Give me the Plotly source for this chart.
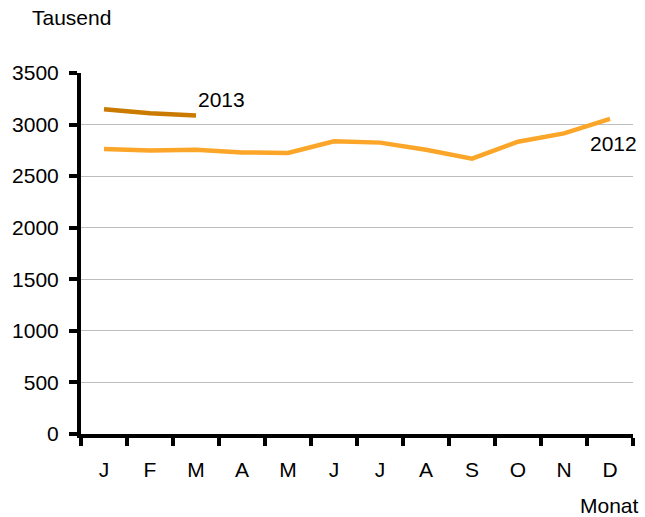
import plotly.graph_objects as go

months = ["J", "F", "M", "A", "M", "J", "J", "A", "S", "O", "N", "D"]
values_2012 = [2764, 2748, 2757, 2730, 2724, 2838, 2825, 2755, 2670, 2834, 2915, 3055]
values_2013 = [3149, 3110, 3088]
y_ticks = [0, 500, 1000, 1500, 2000, 2500, 3000, 3500]

FONT = "Liberation Sans, Arial, sans-serif"
x_idx = list(range(len(months)))

fig = go.Figure()
fig.add_trace(go.Scatter(x=x_idx, y=values_2012, mode="lines",
                         line=dict(color="#FCA629", width=4.5), name="2012"))
fig.add_trace(go.Scatter(x=x_idx[:len(values_2013)], y=values_2013, mode="lines",
                         line=dict(color="#CB7A00", width=4.5), name="2013"))

fig.update_layout(
    width=645, height=517,
    margin=dict(l=78, r=12, t=73, b=83),
    paper_bgcolor="white", plot_bgcolor="white",
    showlegend=False,
    font=dict(family=FONT, size=21, color="black"),
    xaxis=dict(
        range=[-0.5, 11.5], tickvals=x_idx, ticktext=months,
        ticks="outside", ticklen=0, showgrid=False, zeroline=False,
        showline=True, linecolor="black", linewidth=4,
        ticklabelstandoff=14,
        minor=dict(tickvals=[i - 0.5 for i in range(13)], ticks="outside",
                   ticklen=8, tickwidth=4, tickcolor="black", showgrid=False),
        tickfont=dict(size=21),
    ),
    yaxis=dict(
        range=[0, 3500], tickvals=y_ticks, ticks="outside", ticklen=8,
        tickwidth=4, tickcolor="black", showgrid=True, gridcolor="#BDBDBD",
        gridwidth=1, zeroline=False, showline=True, linecolor="black",
        linewidth=4, tickfont=dict(size=21), ticklabelstandoff=6,
    ),
    annotations=[
        dict(text="Tausend", xref="paper", yref="paper", x=-0.092, y=1.155,
             xanchor="left", yanchor="middle", showarrow=False, font=dict(size=21)),
        dict(text="Monat", xref="paper", yref="paper", x=1.0144, y=-0.197,
             xanchor="right", yanchor="middle", showarrow=False, font=dict(size=21)),
        dict(text="2013", xref="x", yref="y", x=2.0, y=3239,
             xanchor="left", yanchor="middle", showarrow=False, font=dict(size=21)),
        dict(text="2012", xref="x", yref="y", x=10.53, y=2812,
             xanchor="left", yanchor="middle", showarrow=False, font=dict(size=21)),
    ],
)

fig.write_html("out.html")
